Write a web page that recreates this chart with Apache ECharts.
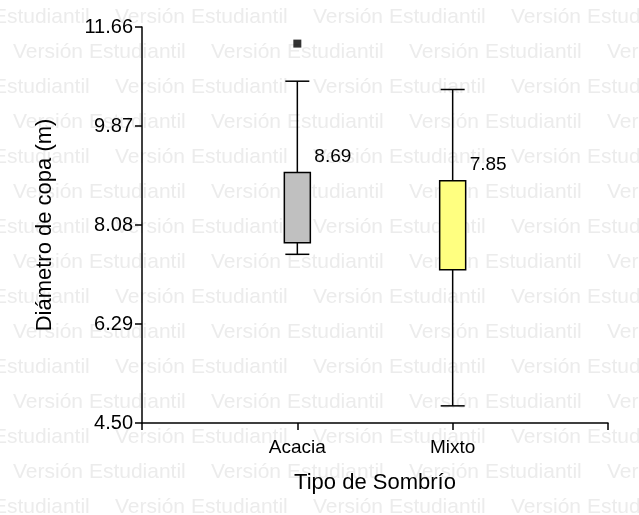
<!DOCTYPE html>
<html>
<head>
<meta charset="utf-8">
<script src="https://cdn.jsdelivr.net/npm/echarts@6/dist/echarts.min.js"></script>
<style>
  html, body { margin: 0; padding: 0; background: #fff; }
  #chart { width: 639px; height: 515px; }
</style>
</head>
<body>
<div id="chart"></div>
<script>
// datos
const categorias = ['Acacia', 'Mixto'];
const minimos = [7.55, 4.81];
const cuartil1 = [7.76, 7.27];
const cuartil3 = [9.03, 8.88];
const maximos = [10.68, 10.53];
const medias = [8.69, 7.85];
const atipicos = [['Acacia', 11.36]];
const yTicks = [4.50, 6.29, 8.08, 9.87, 11.66];
const colores = ['#c0c0c0', '#ffff80'];

const FONT = 'Liberation Sans, Arial, sans-serif';

// marca de agua "Versión Estudiantil"
const marca = [];
for (let k = 0; k < 15; k++) {
  const y = 17 + k * 35;
  const x0 = k % 2 === 0 ? -83 : 13;
  for (let j = 0; j < 5; j++) {
    marca.push({
      type: 'text',
      silent: true,
      z: -100,
      x: x0 + j * 198,
      y: y,
      style: {
        text: 'Versión Estudiantil',
        font: '21px ' + FONT,
        fill: '#ececec',
        verticalAlign: 'middle'
      }
    });
  }
}

const cajas = categorias.map((c, i) => [c, minimos[i], cuartil1[i], cuartil3[i], maximos[i], medias[i]]);

const renderCaja = (params, api) => {
  const x = api.value(0);
  const pMin = api.coord([x, api.value(1)]);
  const pQ1 = api.coord([x, api.value(2)]);
  const pQ3 = api.coord([x, api.value(3)]);
  const pMax = api.coord([x, api.value(4)]);
  const cx = pMax[0];
  const half = 13;
  const cap = 12;
  const linea = { stroke: '#000', lineWidth: 1.5 };
  return {
    type: 'group',
    children: [
      { type: 'line', shape: { x1: cx, y1: pMax[1], x2: cx, y2: pQ3[1] }, style: linea },
      { type: 'line', shape: { x1: cx, y1: pQ1[1], x2: cx, y2: pMin[1] }, style: linea },
      { type: 'line', shape: { x1: cx - cap, y1: pMax[1], x2: cx + cap, y2: pMax[1] }, style: linea },
      { type: 'line', shape: { x1: cx - cap, y1: pMin[1], x2: cx + cap, y2: pMin[1] }, style: linea },
      {
        type: 'rect',
        shape: { x: cx - half, y: pQ3[1], width: half * 2, height: pQ1[1] - pQ3[1] },
        style: { fill: colores[params.dataIndex], stroke: '#000', lineWidth: 1.5 }
      },
      {
        type: 'text',
        x: cx + 17,
        y: pQ3[1] - 16,
        style: {
          text: api.value(5).toFixed(2),
          font: '19px ' + FONT,
          fill: '#000',
          verticalAlign: 'middle'
        }
      }
    ]
  };
};

const option = {
  animation: false,
  backgroundColor: '#fff',
  graphic: marca,
  grid: {
    left: 142,
    right: 31,
    top: 27,
    bottom: 92,
    containLabel: false
  },
  xAxis: {
    type: 'category',
    data: ['', ...categorias, ''],
    boundaryGap: false,
    name: 'Tipo de Sombrío',
    nameLocation: 'middle',
    nameGap: 49,
    nameTextStyle: { fontSize: 22, color: '#000', fontFamily: FONT },
    axisLine: { lineStyle: { color: '#000', width: 1.5 } },
    axisTick: { show: true, length: 7, lineStyle: { color: '#000', width: 1.5 } },
    axisLabel: { fontSize: 19, color: '#000', fontFamily: FONT, margin: 15, interval: 0 },
    splitLine: { show: false }
  },
  yAxis: {
    type: 'value',
    min: 4.5,
    max: 11.66,
    name: 'Diámetro de copa (m)',
    nameLocation: 'middle',
    nameGap: 86,
    nameTextStyle: { fontSize: 22, color: '#000', fontFamily: FONT },
    axisLine: { show: true, lineStyle: { color: '#000', width: 1.5 } },
    axisTick: { show: true, length: 7, customValues: yTicks, lineStyle: { color: '#000', width: 1.5 } },
    axisLabel: {
      fontSize: 20, color: '#000', fontFamily: FONT, margin: 9,
      customValues: yTicks,
      formatter: v => v.toFixed(2)
    },
    splitLine: { show: false }
  },
  series: [
    {
      type: 'custom',
      renderItem: renderCaja,
      dimensions: ['cat', 'min', 'q1', 'q3', 'max', 'media'],
      encode: { x: 0, y: [1, 2, 3, 4] },
      clip: false,
      z: 3,
      data: cajas
    },
    {
      type: 'scatter',
      symbol: 'rect',
      symbolSize: 8,
      itemStyle: { color: '#000' },
      z: 4,
      data: atipicos
    }
  ]
};

echarts.init(document.getElementById('chart')).setOption(option);
</script>
</body>
</html>
